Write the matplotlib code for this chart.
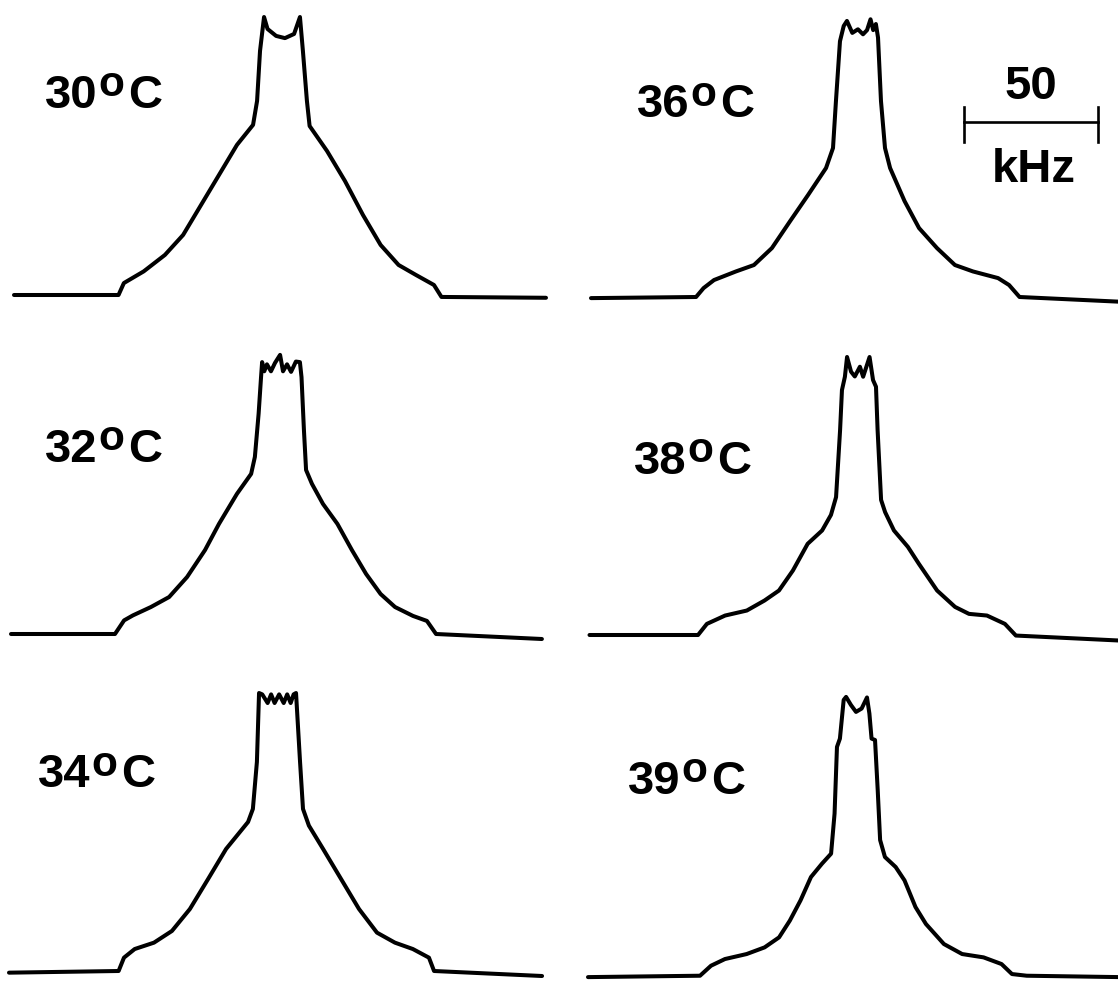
import matplotlib
matplotlib.use('Agg')
import matplotlib.pyplot as plt

# 2H NMR spectra
# frequency offset from centre (kHz) and intensity (% of horn height)
temps = ['30', '32', '34', '36', '38', '39']

freq_30 = [-100, -61, -59, -51.6, -43.7, -36.9, -30.2, -23.5, -16.8, -10.8, -9.3, -8.2, -6.7,
           -5.4, -2.2, 1.1, 4.5, 6.7, 7.8, 9.3, 10.3, 16.8, 23.5, 30.2, 36.8, 43.5, 50, 56.7, 59.5, 98.5]
int_30 = [0, 0, 4.3, 8.5, 14.4, 21.6, 32.4, 43.2, 54, 61.2, 69.8, 87.8, 100,
          95.7, 93.2, 92.4, 93.9, 100, 87.8, 69.8, 60.8, 51.8, 41, 28.8, 18, 10.8, 7.2, 3.6, -0.7, -1]

freq_32 = [-100, -61.2, -57.8, -54.5, -47.8, -41, -34.3, -27.6, -22.4, -15.7, -10.4, -9, -7.6, -6.7,
           -6.3, -5.5, -4.5, -3, -1.5, 0.4, 1.5, 3, 4.5, 6.3, 7.8, 8.4, 9.3, 10.1, 12.3, 16.4, 21.8,
           27.2, 32.5, 37.9, 43.3, 50, 55.2, 58.6, 98.1]
int_32 = [0, 0, 4.9, 6.7, 9.7, 13.3, 20.5, 30.2, 39.6, 50.4, 57.6, 63.7, 79.3, 92.4,
          97.8, 94.5, 97, 94.5, 97.5, 100.4, 94.5, 97, 94.3, 98, 97.8, 92.4, 73.4, 59, 54, 46.8, 39.6,
          30.2, 21.6, 14.4, 9.7, 6.5, 4.7, 0, -1.8]

freq_34 = [-100, -59.1, -57.1, -53.1, -45.9, -39.2, -32.5, -25.7, -19, -10.8, -9, -7.5, -6.7,
           -5.5, -3.5, -2.2, -0.9, 0.8, 2.5, 3.8, 5.1, 6.2, 7.1, 8.6, 9.7, 11.9, 17.2, 23.9, 30.6,
           37.3, 44, 50.7, 56.7, 58.6, 98.9]
int_34 = [-0.6, 0, 4.8, 7.9, 10.2, 14.4, 22.3, 33.1, 43.9, 53.6, 58.3, 75.2, 100,
          99.5, 96.4, 99.5, 96.4, 99.5, 96.4, 99.5, 96.4, 99.5, 100, 75.2, 58.3, 52.3, 43.9, 33.1, 22.3,
          13.8, 10.2, 7.9, 4.8, 0, -1.8]

freq_36 = [-100, -60.8, -58, -54.1, -45.9, -39.2, -32.5, -25.7, -19, -12.3, -9.7, -8.6, -7.1,
           -5.7, -4.5, -2.5, -0.4, 1.5, 3, 4.3, 5.3, 6.3, 7.1, 8.2, 9.7, 11.6, 17, 22.4, 29.1,
           35.8, 42.5, 51.9, 56, 59.9, 97.4]
int_36 = [-0.4, 0, 3.2, 6.1, 9.2, 11.5, 17.6, 27.3, 36.7, 46.4, 53.6, 70.5, 92,
          97.5, 99.3, 95, 96.3, 94.5, 96, 99.9, 96, 98.2, 93.3, 70.5, 53.6, 46.4, 34.5, 24.8, 17.6,
          11.5, 9.2, 6.8, 4.3, 0, -1.7]

freq_38 = [-100, -59.5, -56.2, -49.4, -41.3, -34.7, -29.3, -24.1, -18.6, -13.2, -9.9, -8, -6.5,
           -5.8, -4.7, -3.9, -2.4, -1, 0.9, 2.1, 4.5, 5.8, 6.9, 7.5, 8.8, 10.3, 13.6, 18.8, 22.9,
           29.7, 36.4, 41.6, 48.3, 55, 59.1, 97.9]
int_38 = [0, 0, 4, 7, 8.8, 12.4, 16, 23.2, 32.8, 37.6, 43.2, 49.6, 73.7,
          88.1, 92.9, 100, 94.7, 93, 96.5, 92.9, 100, 91.7, 89.3, 73.7, 48.6, 44.2, 37.6, 31.7, 25.6,
          16, 10.1, 7.6, 7, 4, -0.2, -2]

freq_39 = [-100, -58.2, -54.1, -48.9, -40.8, -34.1, -28.7, -24.7, -20.7, -16.8, -12.7, -9.3, -8,
           -7.1, -6, -4.6, -3.7, -1.9, 0, 2.1, 4.1, 5, 5.8, 7.1, 8.1, 9, 10.8, 14.8, 18.1, 22.2,
           26.1, 32.8, 39.6, 47.6, 54.3, 58.2, 63.7, 98.5]
int_39 = [-0.4, 0.1, 3.7, 6.1, 7.9, 10.3, 13.9, 19.9, 27.2, 35.6, 40.4, 44, 58.4,
          82.4, 85.4, 99.3, 100.4, 97.5, 95, 96.2, 100.2, 94.4, 85.4, 84.9, 66.9, 48.9, 42.8, 39.2, 34.4, 24.8,
          18.7, 11.5, 7.9, 6.7, 4.3, 0.7, 0.1, -0.4]

freqs = [freq_30, freq_32, freq_34, freq_36, freq_38, freq_39]
ints = [int_30, int_32, int_34, int_36, int_38, int_39]

scale_bar_khz = 50

# layout (pixels of the 1118x982 image)
W, H = 1118, 982
PX_KHZ = 2.68      # pixels per kHz
PX_INT = 2.78      # pixels per % intensity
centres = [282, 279, 277, 859, 857.5, 856]
baselines = [295, 634, 971, 297, 635, 976]
label_pos = [(45, 108), (45, 462), (38, 787), (637, 117), (634, 474), (628, 794)]

FONT = 'Liberation Sans'
FS = 34

fig = plt.figure(figsize=(W / 100, H / 100), dpi=100)
fig.patch.set_facecolor('white')

axes = []
for i in range(len(temps)):
    cx, by = centres[i], baselines[i]
    left = (cx - 105 * PX_KHZ) / W
    bottom = 1 - (by + 8 * PX_INT) / H
    ax = fig.add_axes([left, bottom, 210 * PX_KHZ / W, 116 * PX_INT / H])
    ax.plot(freqs[i], ints[i], color='black', lw=2.9, solid_joinstyle='round',
            solid_capstyle='round', clip_on=False)
    ax.set_xlim(-105, 105)
    ax.set_ylim(-8, 108)
    ax.axis('off')
    axes.append(ax)

    # temperature label: "30" + raised "o" + "C"
    lx, ly = label_pos[i]
    fig.text(lx / W, 1 - ly / H, temps[i], family=FONT, fontweight='bold',
             fontsize=FS, ha='left', va='baseline')
    fig.text((lx + 53) / W, 1 - (ly - 11.5) / H, 'o', family=FONT, fontweight='bold',
             fontsize=FS * 0.9, ha='left', va='baseline')
    fig.text((lx + 83) / W, 1 - ly / H, 'C', family=FONT, fontweight='bold',
             fontsize=FS, ha='left', va='baseline')

# scale bar in the 36 C panel
ax = axes[3]
bar_x0 = 39.1
bar_y = 63.1
ax.plot([bar_x0, bar_x0 + scale_bar_khz], [bar_y, bar_y], color='black', lw=1.9, clip_on=False)
for xb in (bar_x0, bar_x0 + scale_bar_khz):
    ax.plot([xb, xb], [55.9, 68.5], color='black', lw=1.9, clip_on=False)
ax.text(bar_x0 + scale_bar_khz / 2, 71.2, str(scale_bar_khz), family=FONT, fontweight='bold',
        fontsize=FS, ha='center', va='baseline')
ax.text(bar_x0 + scale_bar_khz / 2 + 1, 41.5, 'kHz', family=FONT, fontweight='bold',
        fontsize=FS, ha='center', va='baseline')

fig.savefig('out.png', dpi=100, facecolor='white')
